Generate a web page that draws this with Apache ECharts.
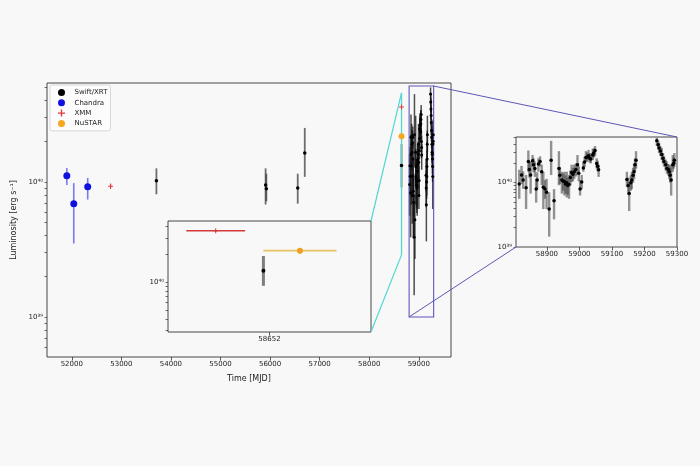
<!DOCTYPE html>
<html>
<head>
<meta charset="utf-8">
<script src="https://cdn.jsdelivr.net/npm/echarts@6/dist/echarts.min.js"></script>
<style>
html,body{margin:0;padding:0;background:#f8f8f8;}
#c{width:700px;height:466px;}
</style>
</head>
<body>
<div id="c"></div>
<script>
// ---------- DATA (luminosity in units of LUM_UNIT erg/s) ----------
const LUM_UNIT = 1e40;

// Swift/XRT, early epochs
const swiftMJD = [53707, 55910, 55925, 56558, 56700, 58651.94];
const swiftL   = [1.02, 0.95, 0.89, 0.90, 1.64, 1.32];
const swiftLo  = [0.81, 0.68, 0.72, 0.69, 1.09, 0.91];
const swiftHi  = [1.26, 1.26, 1.15, 1.15, 2.51, 1.91];

// Chandra
const chandraMJD = [51900, 52040, 52321];
const chandraL   = [1.11, 0.69, 0.92];
const chandraLo  = [0.95, 0.35, 0.74];
const chandraHi  = [1.27, 0.98, 1.07];

// XMM
const xmmMJD  = [52783, 58651.47];
const xmmL    = [0.93, 3.58];
const xmmLo   = [0.89, 3.50];
const xmmHi   = [0.97, 3.66];
const xmmXLo  = [52783, 58651.18];
const xmmXHi  = [52783, 58651.76];

// NuSTAR
const nustarMJD = [58652.30];
const nustarL   = [2.18];
const nustarLo  = [2.02];
const nustarHi  = [2.32];
const nustarXLo = [58651.94];
const nustarXHi = [58652.66];

// Swift/XRT monitoring (2019-2021)
const monMJD = [58815,58822,58827,58836,58843,58846,58850,58856,58859,58863,58867,58870,58874,58879,58884,58889,58894,58899,58907,58913,58922,58937,58940,58946,58950,58954,58957,58961,58964,58968,58972,58976,58980,58984,58989,58994,58998,59002,59007,59012,59016,59020,59024,59028,59032,59035,59041,59044,59048,59053,59056,59059,59146,59150,59153,59158,59161,59165,59168,59171,59174,59238,59242,59245,59249,59253,59257,59260,59265,59269,59273,59276,59279,59282,59287,59290,59292];
const monL   = [0.955,1.318,1.10,0.832,2.138,1.60,1.318,2.188,1.90,1.66,0.794,1.10,1.95,2.138,1.479,0.851,0.794,0.708,0.389,2.239,0.525,1.66,1.30,1.096,1.05,1.047,0.95,1.0,0.90,0.933,1.20,1.445,1.35,1.479,1.60,1.905,1.40,0.794,1.023,1.698,2.10,2.455,2.50,2.63,2.40,2.344,2.69,2.90,3.162,1.995,1.80,1.585,1.122,0.90,0.676,1.00,1.096,1.30,1.479,1.90,2.239,4.467,3.90,3.467,3.10,2.754,2.40,2.138,1.90,1.66,1.60,1.479,1.30,1.096,1.905,2.00,2.239];
const monLo  = [0.562,0.955,0.80,0.389,1.479,1.20,0.676,1.778,1.45,1.23,0.49,0.78,1.479,1.778,0.912,0.389,0.562,0.389,0.145,1.318,0.269,0.912,0.95,0.676,0.75,0.631,0.68,0.589,0.65,0.562,0.90,1.023,1.05,1.148,1.25,1.318,1.05,0.631,0.794,1.479,1.75,2.138,2.10,2.239,2.05,1.995,2.239,2.45,2.57,1.66,1.50,1.23,0.851,0.65,0.363,0.75,0.794,1.00,1.148,1.50,1.66,3.715,3.30,2.884,2.60,2.239,2.00,1.778,1.55,1.38,1.30,1.148,1.00,0.631,1.479,1.65,1.778];
const monHi  = [1.585,1.82,1.50,1.318,3.162,2.10,2.138,2.69,2.40,2.138,1.148,1.45,2.399,2.57,1.905,1.479,1.096,1.148,0.708,4.467,0.794,3.09,1.75,1.479,1.40,1.479,1.30,1.479,1.20,1.318,1.55,1.905,1.70,1.905,2.00,2.69,1.80,1.096,1.318,2.138,2.55,3.09,2.95,3.236,2.85,2.884,3.388,3.40,3.715,2.399,2.20,1.905,1.479,1.20,1.023,1.30,1.479,1.70,1.995,2.40,3.09,5.01,4.50,4.169,3.70,3.467,2.90,2.57,2.30,2.138,1.95,1.905,1.70,1.905,2.69,2.45,2.884];

// Tick labels
const mainXTicks   = [52000,53000,54000,55000,56000,57000,58000,59000];
const inset1XTicks = [58652];
const inset2XTicks = [58900,59000,59100,59200,59300];
const legendNames  = ['Swift/XRT','Chandra','XMM','NuSTAR'];

// ---------- helpers ----------
const SUP = {'0':'⁰','1':'¹','2':'²','3':'³','4':'⁴','5':'⁵','6':'⁶','7':'⁷','8':'⁸','9':'⁹','-':'⁻'};
function powLabel(v){ const e = Math.round(Math.log10(v)); return '10' + String(e).split('').map(c=>SUP[c]).join(''); }
// log-axis tick positions: decades plus 2..9 multiples inside the range
function logTicks(lo, hi){ const out=[]; for(let e=38;e<=41;e++){ for(let m=1;m<=9;m++){ const v=m*Math.pow(10,e); if(v>=lo && v<=hi) out.push(v);} } return out; }

const FONT = 'DejaVu Sans';
const AX = '#333';
const COL = {'Swift/XRT':'#000000','Chandra':'#1010e0','XMM':'#e03a3a','NuSTAR':'#f5a623'};

function rows(x, y, lo, hi, xl, xh){
  return x.map((v,i)=>[v, y[i]*LUM_UNIT, lo[i]*LUM_UNIT, hi[i]*LUM_UNIT, xl?xl[i]:v, xh?xh[i]:v]);
}
function errSeries(name, color, w, xi, yi, data, z){
  return {
    type:'custom', name, xAxisIndex:xi, yAxisIndex:yi, clip:true, z:z||2, silent:true,
    itemStyle:{color:COL[name]},
    encode:{x:0, y:1},
    data,
    renderItem:(params, api)=>{
      const x=api.value(0), y=api.value(1), lo=api.value(2), hi=api.value(3), xl=api.value(4), xh=api.value(5);
      const a=api.coord([x,lo]), b=api.coord([x,hi]);
      const ch=[{type:'line', shape:{x1:a[0],y1:a[1],x2:b[0],y2:b[1]}, style:{stroke:color, lineWidth:w}}];
      if (xl!==xh){
        const c=api.coord([xl,y]), d=api.coord([xh,y]);
        ch.push({type:'line', shape:{x1:c[0],y1:c[1],x2:d[0],y2:d[1]}, style:{stroke:color, lineWidth:w}});
      }
      return {type:'group', children:ch};
    }
  };
}
const PLUS = 'path://M4,0h2v4h4v2h-4v4h-2v-4h-4v-2h4z';
function markSeries(name, color, symbol, size, xi, yi, data, z){
  return {type:'scatter', name, xAxisIndex:xi, yAxisIndex:yi, symbol, symbolSize:size, itemStyle:{color, opacity:1}, data:data.map(r=>[r[0],r[1]]), z:z||5, silent:true, clip:true};
}

const swiftRows   = rows(swiftMJD, swiftL, swiftLo, swiftHi);
const chandraRows = rows(chandraMJD, chandraL, chandraLo, chandraHi);
const xmmRows     = rows(xmmMJD, xmmL, xmmLo, xmmHi, xmmXLo, xmmXHi);
const nustarRows  = rows(nustarMJD, nustarL, nustarLo, nustarHi, nustarXLo, nustarXHi);
const monRows     = rows(monMJD, monL, monLo, monHi);

// axis ranges
const MAIN_X=[51500,59650], MAIN_Y=[5.05e38,5.4e40];
const IN1_X=[58651,58653], IN1_Y=[2.88e39,4.57e40];
const IN2_X=[58805,59300], IN2_Y=[1e39,5.13e40];

function xAx(grid, rng, ticks){
  return {type:'value', gridIndex:grid, min:rng[0], max:rng[1], splitLine:{show:false}, axisLine:{show:false},
    axisTick:{show:true, length:3.5, lineStyle:{color:AX, width:0.8}, customValues:ticks},
    axisLabel:{customValues:ticks, fontSize:7, color:'#222', fontFamily:FONT, margin:4, formatter:v=>String(v)}};
}
function yAx(grid, rng, majors, opts){
  return Object.assign({type:'log', logBase:10, gridIndex:grid, position:'left', min:rng[0], max:rng[1], splitLine:{show:false}, axisLine:{show:false},
    axisTick:{show:true, length:2.5, lineStyle:{color:AX, width:0.7}, customValues:logTicks(rng[0],rng[1])},
    axisLabel:{customValues:majors, fontSize:7, color:'#222', fontFamily:FONT, margin:4, formatter:powLabel}}, opts||{});
}
function grid(l,t,w,h,z){ return {left:l, top:t, width:w, height:h, show:true, borderColor:AX, borderWidth:0.9, backgroundColor:'#f8f8f8', containLabel:false, outerBoundsMode:'none', z:z}; }

const chart = echarts.init(document.getElementById('c'), null, {renderer:'canvas'});
const option = {
  backgroundColor:'#f8f8f8',
  animation:false,
  textStyle:{fontFamily:FONT},
  grid:[grid(47,83,404,274,0), grid(168,221,203,111,1), grid(516,137,161,110,1)],
  xAxis:[
    Object.assign(xAx(0, MAIN_X, mainXTicks), {name:'Time [MJD]', nameLocation:'middle', nameGap:18, nameTextStyle:{fontSize:8, color:'#222', fontFamily:FONT}}),
    xAx(1, IN1_X, inset1XTicks),
    xAx(2, IN2_X, inset2XTicks)
  ],
  yAxis:[
    yAx(0, MAIN_Y, [1e39,1e40], {name:'Luminosity [erg s⁻¹]', nameLocation:'middle', nameGap:25, nameRotate:90, nameTextStyle:{fontSize:8, color:'#222', fontFamily:FONT}}),
    yAx(1, IN1_Y, [1e40]),
    yAx(2, IN2_Y, [1e39,1e40])
  ],
  legend:{
    left:50, top:85, orient:'vertical', itemWidth:8, itemHeight:7, itemGap:3.3,
    padding:[4,3,4,8], borderColor:'#cfcfcf', borderWidth:0.8, borderRadius:2, backgroundColor:'rgba(255,255,255,0.6)',
    textStyle:{fontSize:7, color:'#222', fontFamily:FONT, padding:[0,0,0,4]},
    data:[
      {name:'Swift/XRT', icon:'circle', itemStyle:{color:COL['Swift/XRT']}},
      {name:'Chandra', icon:'circle', itemStyle:{color:COL['Chandra']}},
      {name:'XMM', icon:PLUS, itemStyle:{color:COL['XMM']}},
      {name:'NuSTAR', icon:'circle', itemStyle:{color:COL['NuSTAR']}}
    ]
  },
  series:[
    // main panel
    errSeries('Swift/XRT','rgba(50,50,50,0.7)',1.8,0,0, swiftRows),
    errSeries('Swift/XRT','rgba(20,20,20,0.75)',1.5,0,0, monRows),
    errSeries('Chandra','rgba(40,40,230,0.6)',1.6,0,0, chandraRows),
    errSeries('XMM','#e03a3a',1,0,0, xmmRows),
    errSeries('NuSTAR','#efb44a',1.2,0,0, nustarRows),
    markSeries('Swift/XRT','#000','circle',3.5,0,0, swiftRows),
    markSeries('Swift/XRT','#000','circle',3,0,0, monRows),
    markSeries('Chandra','#1010e0','circle',7,0,0, chandraRows),
    markSeries('XMM','#e03a3a',PLUS,5,0,0, xmmRows, 7),
    markSeries('NuSTAR','#f5a623','circle',6,0,0, nustarRows, 7),
    // inset 1
    errSeries('Swift/XRT','rgba(60,60,60,0.65)',3,1,1, swiftRows, 6),
    errSeries('XMM','#d43a3a',1.4,1,1, xmmRows, 6),
    errSeries('NuSTAR','#e8c260',1.8,1,1, nustarRows, 6),
    markSeries('Swift/XRT','#000','circle',4,1,1, swiftRows, 7),
    markSeries('XMM','#d43a3a',PLUS,5,1,1, xmmRows, 7),
    markSeries('NuSTAR','#f0a020','circle',6,1,1, nustarRows, 7),
    // inset 2
    errSeries('Swift/XRT','rgba(60,60,60,0.55)',2.4,2,2, monRows, 6),
    markSeries('Swift/XRT','#000','circle',3.5,2,2, monRows, 7)
  ]
};
chart.setOption(option);

// inset indicator lines, placed through the axes' own conversion
function px(xi, yi, pt){ return chart.convertToPixel({xAxisIndex:xi, yAxisIndex:yi}, pt); }
const CY='#52d6d2', BL='#5d57b8';
const cTop = px(0,0,[58652, IN1_Y[1]]), cBot = px(0,0,[58652, IN1_Y[0]]);
const i1TR = px(1,1,[IN1_X[1], IN1_Y[1]]), i1BR = px(1,1,[IN1_X[1], IN1_Y[0]]);
const bTL = px(0,0,[IN2_X[0], IN2_Y[1]]), bBR = px(0,0,[IN2_X[1], IN2_Y[0]]);
const bTR = px(0,0,[IN2_X[1], IN2_Y[1]]), bBL = px(0,0,[IN2_X[0], IN2_Y[0]]);
const i2TR = px(2,2,[IN2_X[1], IN2_Y[1]]), i2BL = px(2,2,[IN2_X[0], IN2_Y[0]]);
function ln(a,b,c,w){ return {type:'line', silent:true, z:3, shape:{x1:a[0],y1:a[1],x2:b[0],y2:b[1]}, style:{stroke:c, lineWidth:w}}; }
chart.setOption({graphic:[
  ln(cTop,cBot,CY,1.3),
  ln(cTop,i1TR,CY,1.2),
  ln(cBot,i1BR,CY,1.2),
  {type:'rect', silent:true, z:3, shape:{x:bTL[0], y:bTL[1], width:bBR[0]-bTL[0], height:bBR[1]-bTL[1]}, style:{fill:'none', stroke:BL, lineWidth:1.1}},
  ln(bTR,i2TR,BL,1),
  ln(bBL,i2BL,BL,1)
]});
</script>
</body>
</html>
